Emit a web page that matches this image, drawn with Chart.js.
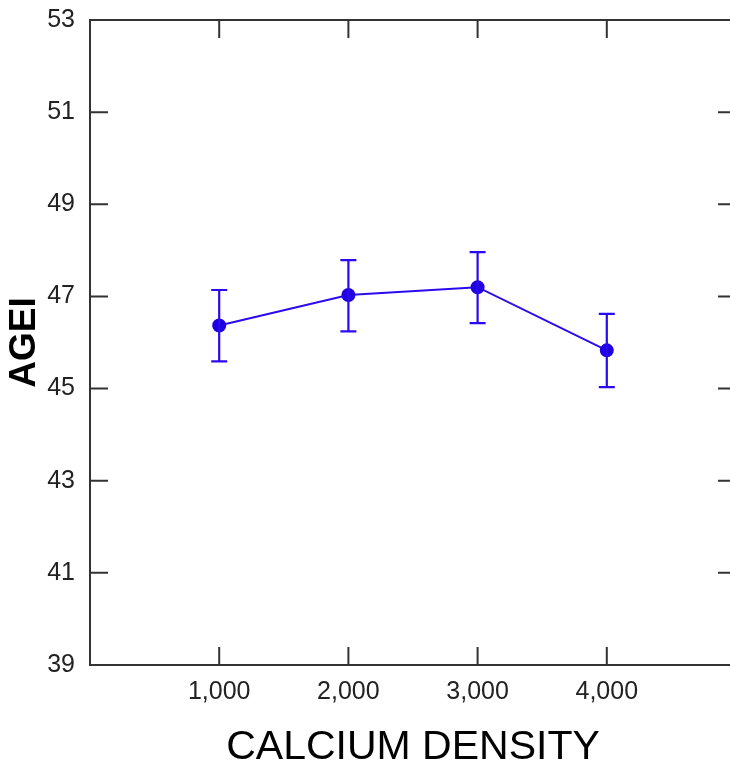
<!DOCTYPE html>
<html>
<head>
<meta charset="utf-8">
<script src="https://cdn.jsdelivr.net/npm/chart.js@4"></script>
<style>
  html, body { margin: 0; padding: 0; background: #fff; overflow: hidden; }
  #wrap { width: 745px; height: 768px; position: relative; }
</style>
</head>
<body>
<div id="wrap"><canvas id="plot"></canvas></div>
<script>
// calcium density groups and AGEI means with their interval ends
var densities = [1000, 2000, 3000, 4000];
var ageiMean = [46.37, 47.03, 47.20, 45.83];
var ageiLow = [45.59, 46.24, 46.42, 45.03];
var ageiHigh = [47.14, 47.79, 47.96, 46.62];
var xTickValues = [1000, 2000, 3000, 4000];

var blue = "#2a0af0";
var axisColor = "#333333";

var points = densities.map(function(d, i) {
    return { x: d, y: ageiMean[i] };
});

// error bars drawn from the scale pixels
var errorBars = {
    id: "errorBars",
    afterDatasetsDraw: function(chart) {
        var ctx = chart.ctx;
        var xs = chart.scales.x;
        var ys = chart.scales.y;
        ctx.save();
        ctx.strokeStyle = blue;
        ctx.lineWidth = 2.2;
        for (var i = 0; i < densities.length; i++) {
            var px = xs.getPixelForValue(densities[i]);
            var top = ys.getPixelForValue(ageiHigh[i]);
            var bot = ys.getPixelForValue(ageiLow[i]);
            ctx.beginPath();
            ctx.moveTo(px, top);
            ctx.lineTo(px, bot);
            ctx.moveTo(px - 8, top);
            ctx.lineTo(px + 8, top);
            ctx.moveTo(px - 8, bot);
            ctx.lineTo(px + 8, bot);
            ctx.stroke();
        }
        ctx.restore();
    }
};

// frame with inward ticks on all four sides
var frame = {
    id: "frame",
    afterDraw: function(chart) {
        var ctx = chart.ctx;
        var a = chart.chartArea;
        var xs = chart.scales.x;
        var ys = chart.scales.y;
        var len = 18;
        ctx.save();
        ctx.strokeStyle = axisColor;
        ctx.lineWidth = 2;
        ctx.strokeRect(a.left, a.top, a.right - a.left, a.bottom - a.top);
        ctx.beginPath();
        ys.ticks.forEach(function(t) {
            var py = ys.getPixelForValue(t.value);
            ctx.moveTo(a.left, py);
            ctx.lineTo(a.left + len, py);
            ctx.moveTo(a.right, py);
            ctx.lineTo(a.right - len, py);
        });
        xs.ticks.forEach(function(t) {
            var px = xs.getPixelForValue(t.value);
            ctx.moveTo(px, a.bottom);
            ctx.lineTo(px, a.bottom - len);
            ctx.moveTo(px, a.top);
            ctx.lineTo(px, a.top + len);
        });
        ctx.stroke();
        ctx.restore();
    }
};

var chart = new Chart(document.getElementById("plot"), {
    type: "line",
    data: {
        datasets: [{
            data: points,
            borderColor: blue,
            borderWidth: 2,
            backgroundColor: "#2000e0",
            pointBackgroundColor: "#2000e0",
            pointBorderColor: "#2000e0",
            pointRadius: 6,
            tension: 0
        }]
    },
    options: {
        responsive: true,
        maintainAspectRatio: false,
        animation: false,
        layout: { padding: { top: 20, right: 9, left: 0, bottom: 0 } },
        plugins: {
            legend: { display: false },
            tooltip: { enabled: false }
        },
        scales: {
            x: {
                type: "linear",
                min: 0,
                max: 5000,
                grid: { display: false, drawTicks: false },
                border: { display: false },
                afterBuildTicks: function(scale) {
                    scale.ticks = xTickValues.map(function(v) { return { value: v }; });
                },
                afterFit: function(scale) {
                    scale.height = 103;
                    scale.paddingLeft = 0;
                    scale.paddingRight = 0;
                },
                ticks: {
                    padding: 12,
                    color: "#222",
                    font: { family: "Liberation Sans, Arial", size: 25 },
                    callback: function(v) { return v.toLocaleString("en-US"); }
                },
                title: {
                    display: true,
                    text: "CALCIUM DENSITY",
                    color: "#000",
                    font: { family: "Liberation Sans, Arial", size: 41, lineHeight: 1 },
                    padding: { top: 0, bottom: 0 }
                }
            },
            y: {
                min: 39,
                max: 53,
                grid: { display: false, drawTicks: false },
                border: { display: false },
                afterFit: function(scale) {
                    scale.width = 90;
                    scale.paddingTop = 0;
                    scale.paddingBottom = 0;
                },
                ticks: {
                    stepSize: 2,
                    padding: 15,
                    color: "#222",
                    font: { family: "Liberation Sans, Arial", size: 25 }
                },
                title: {
                    display: true,
                    text: "AGEI",
                    color: "#000",
                    font: { family: "Liberation Sans, Arial", size: 37, weight: "bold", lineHeight: 1 },
                    padding: { top: 6, bottom: 0 }
                }
            }
        }
    },
    plugins: [errorBars, frame]
});
</script>
</body>
</html>
